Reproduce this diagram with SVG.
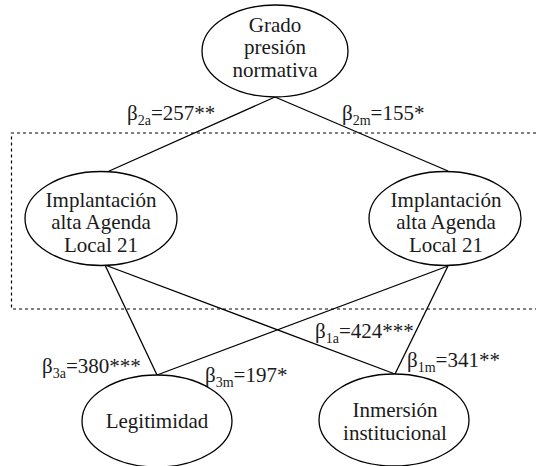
<svg xmlns="http://www.w3.org/2000/svg" width="536" height="466" viewBox="0 0 536 466" font-family="'Liberation Serif', 'DejaVu Serif', serif">
<style>
.n{fill:#fff;stroke:#000;stroke-width:1.3}
.t{font-family:'Liberation Serif','DejaVu Serif',serif;font-size:21px;fill:#1a1a1a}
.c{text-anchor:middle}
.e{stroke:#000;stroke-width:1.3;fill:none}
.s{font-size:14px}
</style>
<rect width="536" height="466" fill="#fff"/>
<path d="M536,133 H11.5 V309 H536" fill="none" stroke="#000" stroke-width="1.2" stroke-dasharray="3,3"/>
<g id="connectors">
<line class="e" x1="275" y1="97" x2="107" y2="172"/>
<line class="e" x1="275" y1="97" x2="448" y2="171"/>
<line class="e" x1="105" y1="265" x2="157" y2="375"/>
<line class="e" x1="105" y1="265" x2="395" y2="374"/>
<line class="e" x1="448" y1="266" x2="157" y2="375"/>
<line class="e" x1="448" y1="266" x2="395" y2="374"/>
</g>
<g id="labels" class="t">
<text x="127" y="120">β<tspan class="s" dy="5">2a</tspan><tspan dy="-5">=257**</tspan></text>
<text x="342" y="120">β<tspan class="s" dy="5">2m</tspan><tspan dy="-5">=155*</tspan></text>
<text x="315" y="338">β<tspan class="s" dy="5">1a</tspan><tspan dy="-5">=424***</tspan></text>
<text x="407" y="367">β<tspan class="s" dy="5">1m</tspan><tspan dy="-5">=341**</tspan></text>
<text x="42" y="373">β<tspan class="s" dy="5">3a</tspan><tspan dy="-5">=380***</tspan></text>
<text x="205" y="382">β<tspan class="s" dy="5">3m</tspan><tspan dy="-5">=197*</tspan></text>
</g>
<g id="grado">
<ellipse class="n" cx="275" cy="51" rx="73" ry="46"/>
<text class="t c" x="275" y="32">Grado</text>
<text class="t c" x="275" y="54">presión</text>
<text class="t c" x="275" y="77">normativa</text>
</g>
<g id="implantacion-a">
<ellipse class="n" cx="101" cy="218.5" rx="76" ry="47"/>
<text class="t c" x="101" y="207">Implantación</text>
<text class="t c" x="101" y="229">alta Agenda</text>
<text class="t c" x="101" y="252">Local 21</text>
</g>
<g id="implantacion-m">
<ellipse class="n" cx="445" cy="218.5" rx="76" ry="47"/>
<text class="t c" x="446" y="207">Implantación</text>
<text class="t c" x="446" y="229">alta Agenda</text>
<text class="t c" x="446" y="252">Local 21</text>
</g>
<g id="legitimidad">
<ellipse class="n" cx="157" cy="421" rx="75" ry="46"/>
<text class="t c" x="157" y="428">Legitimidad</text>
</g>
<g id="inmersion">
<ellipse class="n" cx="394" cy="420" rx="75" ry="46"/>
<text class="t c" x="395" y="417">Inmersión</text>
<text class="t c" x="395" y="440">institucional</text>
</g>
</svg>
